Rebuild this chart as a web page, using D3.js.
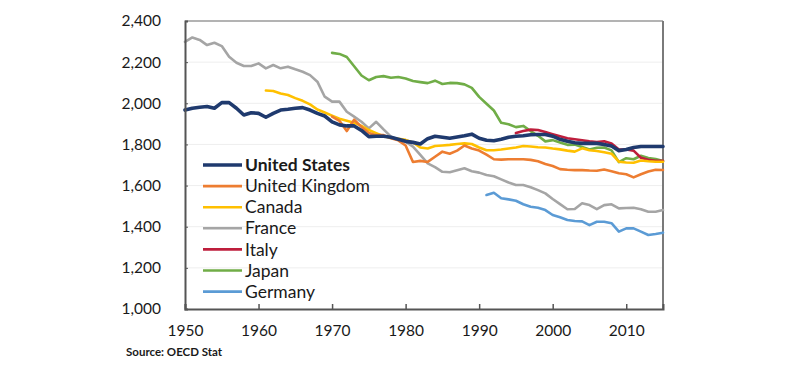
<!DOCTYPE html>
<html><head><meta charset="utf-8">
<script src="https://cdn.jsdelivr.net/npm/d3@7"></script>
<style>
body{margin:0;background:#fff;}
svg{display:block;}
text{font-family:Lato,"Open Sans",sans-serif;fill:#1a1a1a;}
</style></head><body>
<svg id="chart" width="800" height="368"></svg>
<script>
const yTicks = [1000,1200,1400,1600,1800,2000,2200,2400];
const xTicks = [1950,1960,1970,1980,1990,2000,2010];
const seriesNames = ["United States","United Kingdom","Canada","France","Italy","Japan","Germany"];

const usStart = 1950;
const usValues = [1967,1976,1981,1984,1976,2003,2003,1976,1943,1954,1951,1932,1951,1967,1971,1976,1979,1967,1951,1938,1910,1895,1890,1890,1868,1838,1840,1840,1835,1825,1815,1810,1802,1828,1840,1835,1830,1836,1842,1850,1830,1820,1818,1825,1835,1840,1842,1847,1848,1848,1840,1825,1815,1808,1805,1805,1805,1800,1792,1770,1775,1785,1790,1790,1790,1790];

const ukStart = 1970;
const ukValues = [1935,1915,1865,1920,1885,1855,1845,1845,1830,1820,1795,1715,1720,1715,1740,1765,1755,1770,1795,1780,1770,1750,1728,1726,1728,1728,1728,1725,1718,1705,1695,1680,1677,1675,1675,1673,1672,1678,1670,1660,1655,1640,1655,1668,1677,1676];

const caStart = 1961;
const caValues = [2062,2060,2048,2040,2025,2012,1995,1970,1955,1940,1925,1915,1905,1890,1870,1855,1840,1832,1828,1822,1810,1785,1780,1792,1795,1798,1802,1805,1802,1785,1772,1772,1775,1780,1785,1792,1790,1786,1785,1780,1776,1770,1765,1781,1772,1768,1762,1755,1716,1712,1711,1722,1718,1716,1716];

const frStart = 1950;
const frValues = [2299,2320,2308,2283,2294,2278,2226,2197,2181,2181,2194,2170,2186,2170,2178,2165,2153,2137,2105,2032,2008,2008,1959,1935,1910,1878,1910,1873,1838,1822,1813,1789,1749,1708,1690,1667,1665,1675,1684,1670,1663,1651,1645,1630,1615,1603,1603,1592,1578,1562,1535,1510,1485,1486,1514,1505,1485,1505,1509,1489,1491,1492,1485,1473,1473,1481];

const itStart = 1995;
const itValues = [1855,1865,1872,1870,1860,1850,1840,1830,1825,1820,1815,1812,1815,1805,1775,1775,1770,1735,1725,1720,1720];

const jpStart = 1970;
const jpValues = [2245,2240,2225,2180,2135,2112,2128,2132,2124,2128,2120,2108,2103,2098,2110,2094,2099,2098,2092,2075,2031,1998,1965,1905,1898,1884,1890,1865,1842,1815,1821,1809,1798,1799,1787,1775,1784,1785,1771,1714,1733,1728,1745,1734,1729,1719];

const deStart = 1991;
const deValues = [1554,1565,1538,1533,1526,1509,1497,1492,1481,1457,1446,1433,1428,1426,1408,1424,1424,1417,1376,1392,1392,1376,1360,1365,1371];

const colors = ["#1f3a6e","#ed7d31","#ffc000","#a5a5a5","#be1e3c","#70ad47","#5b9bd5"];
const widths = [3.6,2.6,2.6,2.6,2.6,2.6,2.6];

const series = [
  [usStart,usValues],[ukStart,ukValues],[caStart,caValues],[frStart,frValues],
  [itStart,itValues],[jpStart,jpValues],[deStart,deValues]
].map(([s,vals],i)=>({name:seriesNames[i],color:colors[i],width:widths[i],
  points:vals.map((v,k)=>({year:s+k,value:v}))}));

const svg = d3.select("#chart");
const margin = {left:185,right:137,top:21,bottom:59};
const W = 800, H = 368;
const x = d3.scaleLinear().domain([1950,2015]).range([margin.left, W-margin.right]);
const y = d3.scaleLinear().domain([1000,2400]).range([H-margin.bottom, margin.top]);

// gridlines
svg.append("g").selectAll("line").data(yTicks.filter(t=>t>1000&&t<2400)).join("line")
  .attr("x1",x(1950)).attr("x2",x(2015)).attr("y1",d=>y(d)).attr("y2",d=>y(d))
  .attr("stroke","#eeeeee").attr("stroke-width",1);

// frame top & right
svg.append("line").attr("x1",x(1950)).attr("x2",x(2015)).attr("y1",y(2400)).attr("y2",y(2400))
  .attr("stroke","#9a9a9a").attr("stroke-width",1.5);
svg.append("line").attr("x1",x(2015)).attr("x2",x(2015)).attr("y1",y(2400)).attr("y2",y(1000))
  .attr("stroke","#7a7a7a").attr("stroke-width",2);

// lines
const line = d3.line().x(d=>x(d.year)).y(d=>y(d.value));
svg.append("g").selectAll("path").data(series.slice().reverse()).join("path")
  .attr("d",d=>line(d.points)).attr("fill","none")
  .attr("stroke",d=>d.color).attr("stroke-width",d=>d.width)
  .attr("stroke-linejoin","round").attr("stroke-linecap","round");

// axes
const yAxis = d3.axisLeft(y).tickValues(yTicks).tickSize(-3).tickPadding(24).tickFormat(d3.format(","));
const gy = svg.append("g").attr("transform",`translate(${x(1950)},0)`).call(yAxis);
gy.select(".domain").attr("stroke","#555").attr("stroke-width",2);
gy.selectAll(".tick line").attr("stroke","#555");
gy.selectAll("text").style("font-size","15.5px").attr("fill","#1a1a1a");

const xAxis = d3.axisBottom(x).tickValues(xTicks).tickSize(-5).tickPadding(16).tickFormat(d3.format("d"));
const gx = svg.append("g").attr("transform",`translate(0,${y(1000)})`).call(xAxis);
gx.select(".domain").attr("stroke","#555").attr("stroke-width",2);
gx.selectAll(".tick line").attr("stroke","#555").attr("stroke-width",1.5);
gx.selectAll("text").style("font-size","15.5px").attr("fill","#1a1a1a");

// legend
const lg = svg.append("g").attr("transform","translate(203,165)");
const items = lg.selectAll("g").data(series).join("g").attr("transform",(d,i)=>`translate(0,${i*21.1})`);
items.append("line").attr("x1",0).attr("x2",39).attr("y1",0).attr("y2",0)
  .attr("stroke",d=>d.color).attr("stroke-width",d=>d.width>3?3.6:2.6);
items.append("text").attr("x",42).attr("y",0).attr("dy","0.35em")
  .style("font-size","17.5px").style("font-weight",(d,i)=>i===0?"700":"400").text(d=>d.name);

svg.append("text").attr("x",126).attr("y",352).attr("dy","0.35em")
  .style("font-size","11.5px").style("font-weight","700").attr("fill","#333").text("Source: OECD Stat");
</script>
</body></html>
